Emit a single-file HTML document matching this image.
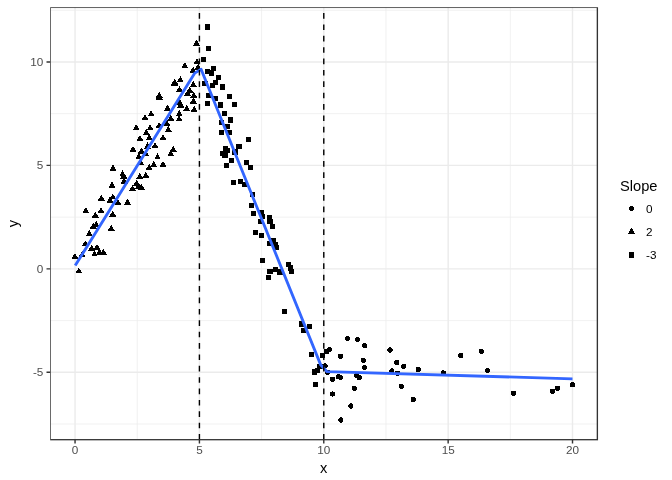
<!DOCTYPE html>
<html><head><meta charset="utf-8"><title>plot</title>
<style>html,body{margin:0;padding:0;background:#fff}svg{display:block}text{font-family:"Liberation Sans",sans-serif}</style></head><body>
<svg width="672" height="480" viewBox="0 0 672 480">
<rect width="672" height="480" fill="#fff"/>
<defs><clipPath id="pc"><rect x="50.18" y="7.33" width="548.22" height="433.42"/></clipPath></defs>
<g clip-path="url(#pc)">
<path d="M137.23 7.33V439.75M261.60 7.33V439.75M385.96 7.33V439.75M510.33 7.33V439.75M50.18 424.03H597.4M50.18 320.58H597.4M50.18 217.13H597.4M50.18 113.68H597.4M50.18 10.23H597.4" stroke="#ebebeb" stroke-width="0.71" fill="none"/>
<path d="M75.05 7.33V439.75M199.42 7.33V439.75M323.78 7.33V439.75M448.15 7.33V439.75M572.51 7.33V439.75M50.18 372.30H597.4M50.18 268.85H597.4M50.18 165.40H597.4M50.18 61.95H597.4" stroke="#ebebeb" stroke-width="1.42" fill="none"/>
<path d="M78.8 267.3L82.3 273.4L75.3 273.4ZM75.0 252.9L78.5 259.0L71.5 259.0ZM82.2 250.8L85.7 256.9L78.7 256.9ZM85.3 240.3L88.8 246.4L81.8 246.4ZM91.7 244.6L95.2 250.7L88.2 250.7ZM97.0 243.8L100.5 249.9L93.5 249.9ZM94.5 250.3L98.0 256.4L91.0 256.4ZM99.5 248.6L103.0 254.7L96.0 254.7ZM103.3 248.6L106.8 254.7L99.8 254.7ZM89.2 229.9L92.7 236.0L85.7 236.0ZM93.3 222.4L96.8 228.5L89.8 228.5ZM96.3 220.8L99.8 226.9L92.8 226.9ZM111.2 224.6L114.7 230.7L107.7 230.7ZM85.8 207.1L89.3 213.2L82.3 213.2ZM95.3 211.6L98.8 217.7L91.8 217.7ZM101.0 207.1L104.5 213.2L97.5 213.2ZM112.7 210.6L116.2 216.7L109.2 216.7ZM101.3 194.6L104.8 200.7L97.8 200.7ZM110.0 196.6L113.5 202.7L106.5 202.7ZM112.8 193.3L116.3 199.4L109.3 199.4ZM118.0 199.1L121.5 205.2L114.5 205.2ZM127.5 198.6L131.0 204.7L124.0 204.7ZM112.0 181.6L115.5 187.7L108.5 187.7ZM113.0 164.6L116.5 170.7L109.5 170.7ZM122.5 170.3L126.0 176.4L119.0 176.4ZM123.8 172.4L127.3 178.5L120.3 178.5ZM124.2 177.4L127.7 183.5L120.7 183.5ZM132.5 184.9L136.0 191.0L129.0 191.0ZM136.7 179.6L140.2 185.7L133.2 185.7ZM138.3 183.3L141.8 189.4L134.8 189.4ZM141.3 183.6L144.8 189.7L137.8 189.7ZM139.7 172.9L143.2 179.0L136.2 179.0ZM145.8 171.6L149.3 177.7L142.3 177.7ZM140.8 159.1L144.3 165.2L137.3 165.2ZM149.2 163.8L152.7 169.9L145.7 169.9ZM153.7 160.8L157.2 166.9L150.2 166.9ZM163.0 160.8L166.5 166.9L159.5 166.9ZM157.5 153.3L161.0 159.4L154.0 159.4ZM133.0 145.8L136.5 151.9L129.5 151.9ZM138.8 152.8L142.3 158.9L135.3 158.9ZM141.3 147.4L144.8 153.5L137.8 153.5ZM145.8 150.3L149.3 156.4L142.3 156.4ZM147.5 142.4L151.0 148.5L144.0 148.5ZM155.0 142.1L158.5 148.2L151.5 148.2ZM170.8 149.9L174.3 156.0L167.3 156.0ZM173.3 145.8L176.8 151.9L169.8 151.9ZM140.0 134.9L143.5 141.0L136.5 141.0ZM149.2 134.1L152.7 140.2L145.7 140.2ZM146.3 128.8L149.8 134.9L142.8 134.9ZM163.0 134.1L166.5 140.2L159.5 140.2ZM168.3 125.7L171.8 131.8L164.8 131.8ZM136.2 124.1L139.7 130.2L132.7 130.2ZM150.1 124.1L153.6 130.2L146.6 130.2ZM145.0 114.1L148.5 120.2L141.5 120.2ZM151.2 110.3L154.7 116.4L147.7 116.4ZM159.2 91.6L162.7 97.7L155.7 97.7ZM159.2 93.6L162.7 99.7L155.7 99.7ZM159.1 121.8L162.6 127.9L155.6 127.9ZM167.0 119.9L170.5 126.0L163.5 126.0ZM167.5 104.6L171.0 110.7L164.0 110.7ZM170.8 114.6L174.3 120.7L167.3 120.7ZM179.2 109.9L182.7 116.0L175.7 116.0ZM179.2 115.3L182.7 121.4L175.7 121.4ZM179.5 98.4L183.0 104.5L176.0 104.5ZM180.8 101.4L184.3 107.5L177.3 107.5ZM186.7 104.9L190.2 111.0L183.2 111.0ZM194.2 105.8L197.7 111.9L190.7 111.9ZM193.3 97.4L196.8 103.5L189.8 103.5ZM193.8 91.6L197.3 97.7L190.3 97.7ZM187.5 89.9L191.0 96.0L184.0 96.0ZM189.7 86.6L193.2 92.7L186.2 92.7ZM179.5 85.8L183.0 91.9L176.0 91.9ZM174.7 78.6L178.2 84.7L171.2 84.7ZM174.8 79.5L178.3 85.6L171.3 85.6ZM180.4 76.1L183.9 82.2L176.9 82.2ZM193.3 80.8L196.8 86.9L189.8 86.9ZM184.8 62.2L188.3 68.3L181.2 68.3ZM193.1 66.6L196.6 72.7L189.6 72.7ZM198.1 63.5L201.6 69.6L194.6 69.6ZM196.9 58.2L200.4 64.3L193.4 64.3ZM196.5 39.7L200.0 45.8L193.0 45.8Z" fill="#000" shape-rendering="crispEdges"/>
<path d="M204.9 24.3h5.2v5.2h-5.2ZM205.8 45.9h5.2v5.2h-5.2ZM200.9 56.8h5.2v5.2h-5.2ZM210.8 65.9h5.2v5.2h-5.2ZM204.9 68.7h5.2v5.2h-5.2ZM209.1 70.4h5.2v5.2h-5.2ZM215.7 74.6h5.2v5.2h-5.2ZM213.2 79.9h5.2v5.2h-5.2ZM209.9 83.2h5.2v5.2h-5.2ZM202.4 80.7h5.2v5.2h-5.2ZM219.6 84.4h5.2v5.2h-5.2ZM205.7 92.7h5.2v5.2h-5.2ZM212.9 95.7h5.2v5.2h-5.2ZM226.9 93.6h5.2v5.2h-5.2ZM204.6 101.1h5.2v5.2h-5.2ZM217.9 102.4h5.2v5.2h-5.2ZM231.9 102.1h5.2v5.2h-5.2ZM221.9 110.7h5.2v5.2h-5.2ZM227.9 117.4h5.2v5.2h-5.2ZM219.1 119.9h5.2v5.2h-5.2ZM224.6 124.1h5.2v5.2h-5.2ZM219.1 130.2h5.2v5.2h-5.2ZM226.9 130.2h5.2v5.2h-5.2ZM245.7 136.9h5.2v5.2h-5.2ZM236.3 143.7h5.2v5.2h-5.2ZM223.2 145.7h5.2v5.2h-5.2ZM224.4 147.9h5.2v5.2h-5.2ZM219.9 150.7h5.2v5.2h-5.2ZM222.4 152.9h5.2v5.2h-5.2ZM232.4 149.4h5.2v5.2h-5.2ZM228.7 157.7h5.2v5.2h-5.2ZM223.7 162.7h5.2v5.2h-5.2ZM243.7 159.6h5.2v5.2h-5.2ZM247.9 164.5h5.2v5.2h-5.2ZM230.7 179.9h5.2v5.2h-5.2ZM237.9 178.7h5.2v5.2h-5.2ZM242.1 181.6h5.2v5.2h-5.2ZM249.9 192.1h5.2v5.2h-5.2ZM249.1 202.8h5.2v5.2h-5.2ZM250.7 210.7h5.2v5.2h-5.2ZM258.7 209.9h5.2v5.2h-5.2ZM259.9 214.1h5.2v5.2h-5.2ZM257.9 219.1h5.2v5.2h-5.2ZM266.6 214.9h5.2v5.2h-5.2ZM267.4 219.1h5.2v5.2h-5.2ZM269.9 223.7h5.2v5.2h-5.2ZM252.7 229.9h5.2v5.2h-5.2ZM258.7 233.2h5.2v5.2h-5.2ZM266.9 240.7h5.2v5.2h-5.2ZM271.1 237.7h5.2v5.2h-5.2ZM272.7 241.6h5.2v5.2h-5.2ZM274.1 244.9h5.2v5.2h-5.2ZM259.9 257.7h5.2v5.2h-5.2ZM285.7 261.6h5.2v5.2h-5.2ZM287.6 265.4h5.2v5.2h-5.2ZM288.9 268.9h5.2v5.2h-5.2ZM267.4 269.2h5.2v5.2h-5.2ZM265.7 274.6h5.2v5.2h-5.2ZM273.2 266.6h5.2v5.2h-5.2ZM277.4 269.4h5.2v5.2h-5.2ZM281.9 308.7h5.2v5.2h-5.2ZM299.1 321.4h5.2v5.2h-5.2ZM306.7 324.2h5.2v5.2h-5.2ZM301.1 327.8h5.2v5.2h-5.2ZM308.9 351.8h5.2v5.2h-5.2ZM319.9 352.8h5.2v5.2h-5.2ZM323.6 348.6h5.2v5.2h-5.2ZM317.4 363.6h5.2v5.2h-5.2ZM311.6 369.4h5.2v5.2h-5.2ZM314.9 368.2h5.2v5.2h-5.2ZM312.9 381.6h5.2v5.2h-5.2Z" fill="#000" shape-rendering="crispEdges"/>
<g fill="#000" shape-rendering="crispEdges"><circle cx="347.5" cy="338.5" r="2.61"/><circle cx="357.5" cy="339.5" r="2.61"/><circle cx="364.7" cy="345.7" r="2.61"/><circle cx="329.5" cy="349.5" r="2.61"/><circle cx="340.5" cy="356.3" r="2.61"/><circle cx="363.3" cy="360.2" r="2.61"/><circle cx="364.5" cy="367.5" r="2.61"/><circle cx="390.0" cy="350.0" r="2.61"/><circle cx="396.8" cy="362.5" r="2.61"/><circle cx="391.8" cy="371.0" r="2.61"/><circle cx="397.5" cy="373.3" r="2.61"/><circle cx="403.8" cy="366.3" r="2.61"/><circle cx="418.3" cy="369.5" r="2.61"/><circle cx="443.3" cy="373.0" r="2.61"/><circle cx="460.8" cy="355.5" r="2.61"/><circle cx="481.3" cy="351.4" r="2.61"/><circle cx="487.5" cy="370.5" r="2.61"/><circle cx="332.5" cy="379.3" r="2.61"/><circle cx="338.3" cy="376.8" r="2.61"/><circle cx="340.5" cy="377.4" r="2.61"/><circle cx="356.8" cy="375.6" r="2.61"/><circle cx="359.3" cy="377.6" r="2.61"/><circle cx="354.4" cy="388.3" r="2.61"/><circle cx="332.5" cy="394.0" r="2.61"/><circle cx="350.8" cy="406.0" r="2.61"/><circle cx="340.8" cy="420.0" r="2.61"/><circle cx="401.3" cy="386.3" r="2.61"/><circle cx="413.3" cy="399.5" r="2.61"/><circle cx="325.2" cy="365.9" r="2.61"/><circle cx="327.7" cy="372.3" r="2.61"/><circle cx="513.5" cy="393.3" r="2.61"/><circle cx="552.5" cy="391.3" r="2.61"/><circle cx="557.5" cy="388.3" r="2.61"/><circle cx="572.5" cy="384.8" r="2.61"/></g>
<polyline points="75.2,265.6 194.8,73.1 201.1,69.3 320.8,365.1 327.1,371.7 572.5,378.8" fill="none" stroke="#3366ff" stroke-width="2.85" stroke-linejoin="round" stroke-linecap="butt"/>
<line x1="199.42" y1="439.75" x2="199.42" y2="7.33" stroke="#000" stroke-width="1.42" stroke-dasharray="5.69 5.69"/>
<line x1="323.78" y1="439.75" x2="323.78" y2="7.33" stroke="#000" stroke-width="1.42" stroke-dasharray="5.69 5.69"/>
<rect x="50.18" y="7.33" width="547.22" height="432.42" fill="none" stroke="#333" stroke-width="1.42"/>
</g>
<path d="M75.05 439.75v3.67M199.42 439.75v3.67M323.78 439.75v3.67M448.15 439.75v3.67M572.51 439.75v3.67M50.18 372.30h-3.67M50.18 268.85h-3.67M50.18 165.40h-3.67M50.18 61.95h-3.67" stroke="#333" stroke-width="1.42" fill="none"/>
<text x="75.05" y="453.9" font-size="11.73" fill="#4d4d4d" text-anchor="middle">0</text>
<text x="199.42" y="453.9" font-size="11.73" fill="#4d4d4d" text-anchor="middle">5</text>
<text x="323.78" y="453.9" font-size="11.73" fill="#4d4d4d" text-anchor="middle">10</text>
<text x="448.15" y="453.9" font-size="11.73" fill="#4d4d4d" text-anchor="middle">15</text>
<text x="572.51" y="453.9" font-size="11.73" fill="#4d4d4d" text-anchor="middle">20</text>
<text x="43.3" y="375.95" font-size="11.73" fill="#4d4d4d" text-anchor="end">-5</text>
<text x="43.3" y="272.50" font-size="11.73" fill="#4d4d4d" text-anchor="end">0</text>
<text x="43.3" y="169.05" font-size="11.73" fill="#4d4d4d" text-anchor="end">5</text>
<text x="43.3" y="65.60" font-size="11.73" fill="#4d4d4d" text-anchor="end">10</text>
<text x="323.7" y="472.6" font-size="14.67" fill="#000" text-anchor="middle">x</text>
<text transform="translate(17.6,223.5) rotate(-90)" font-size="14.67" fill="#000" text-anchor="middle">y</text>
<text x="620.0" y="191.4" font-size="14.67" fill="#000">Slope</text>
<circle cx="631.6" cy="208.5" r="2.61" fill="#000" shape-rendering="crispEdges"/>
<path d="M631.6 227.5L635.1 233.6L628.1 233.6Z" fill="#000" shape-rendering="crispEdges"/>
<path d="M629.0 252.4h5.2v5.2h-5.2Z" fill="#000" shape-rendering="crispEdges"/>
<text x="646" y="212.7" font-size="11.73" fill="#000">0</text>
<text x="646" y="235.8" font-size="11.73" fill="#000">2</text>
<text x="646" y="258.9" font-size="11.73" fill="#000">-3</text>
</svg></body></html>
